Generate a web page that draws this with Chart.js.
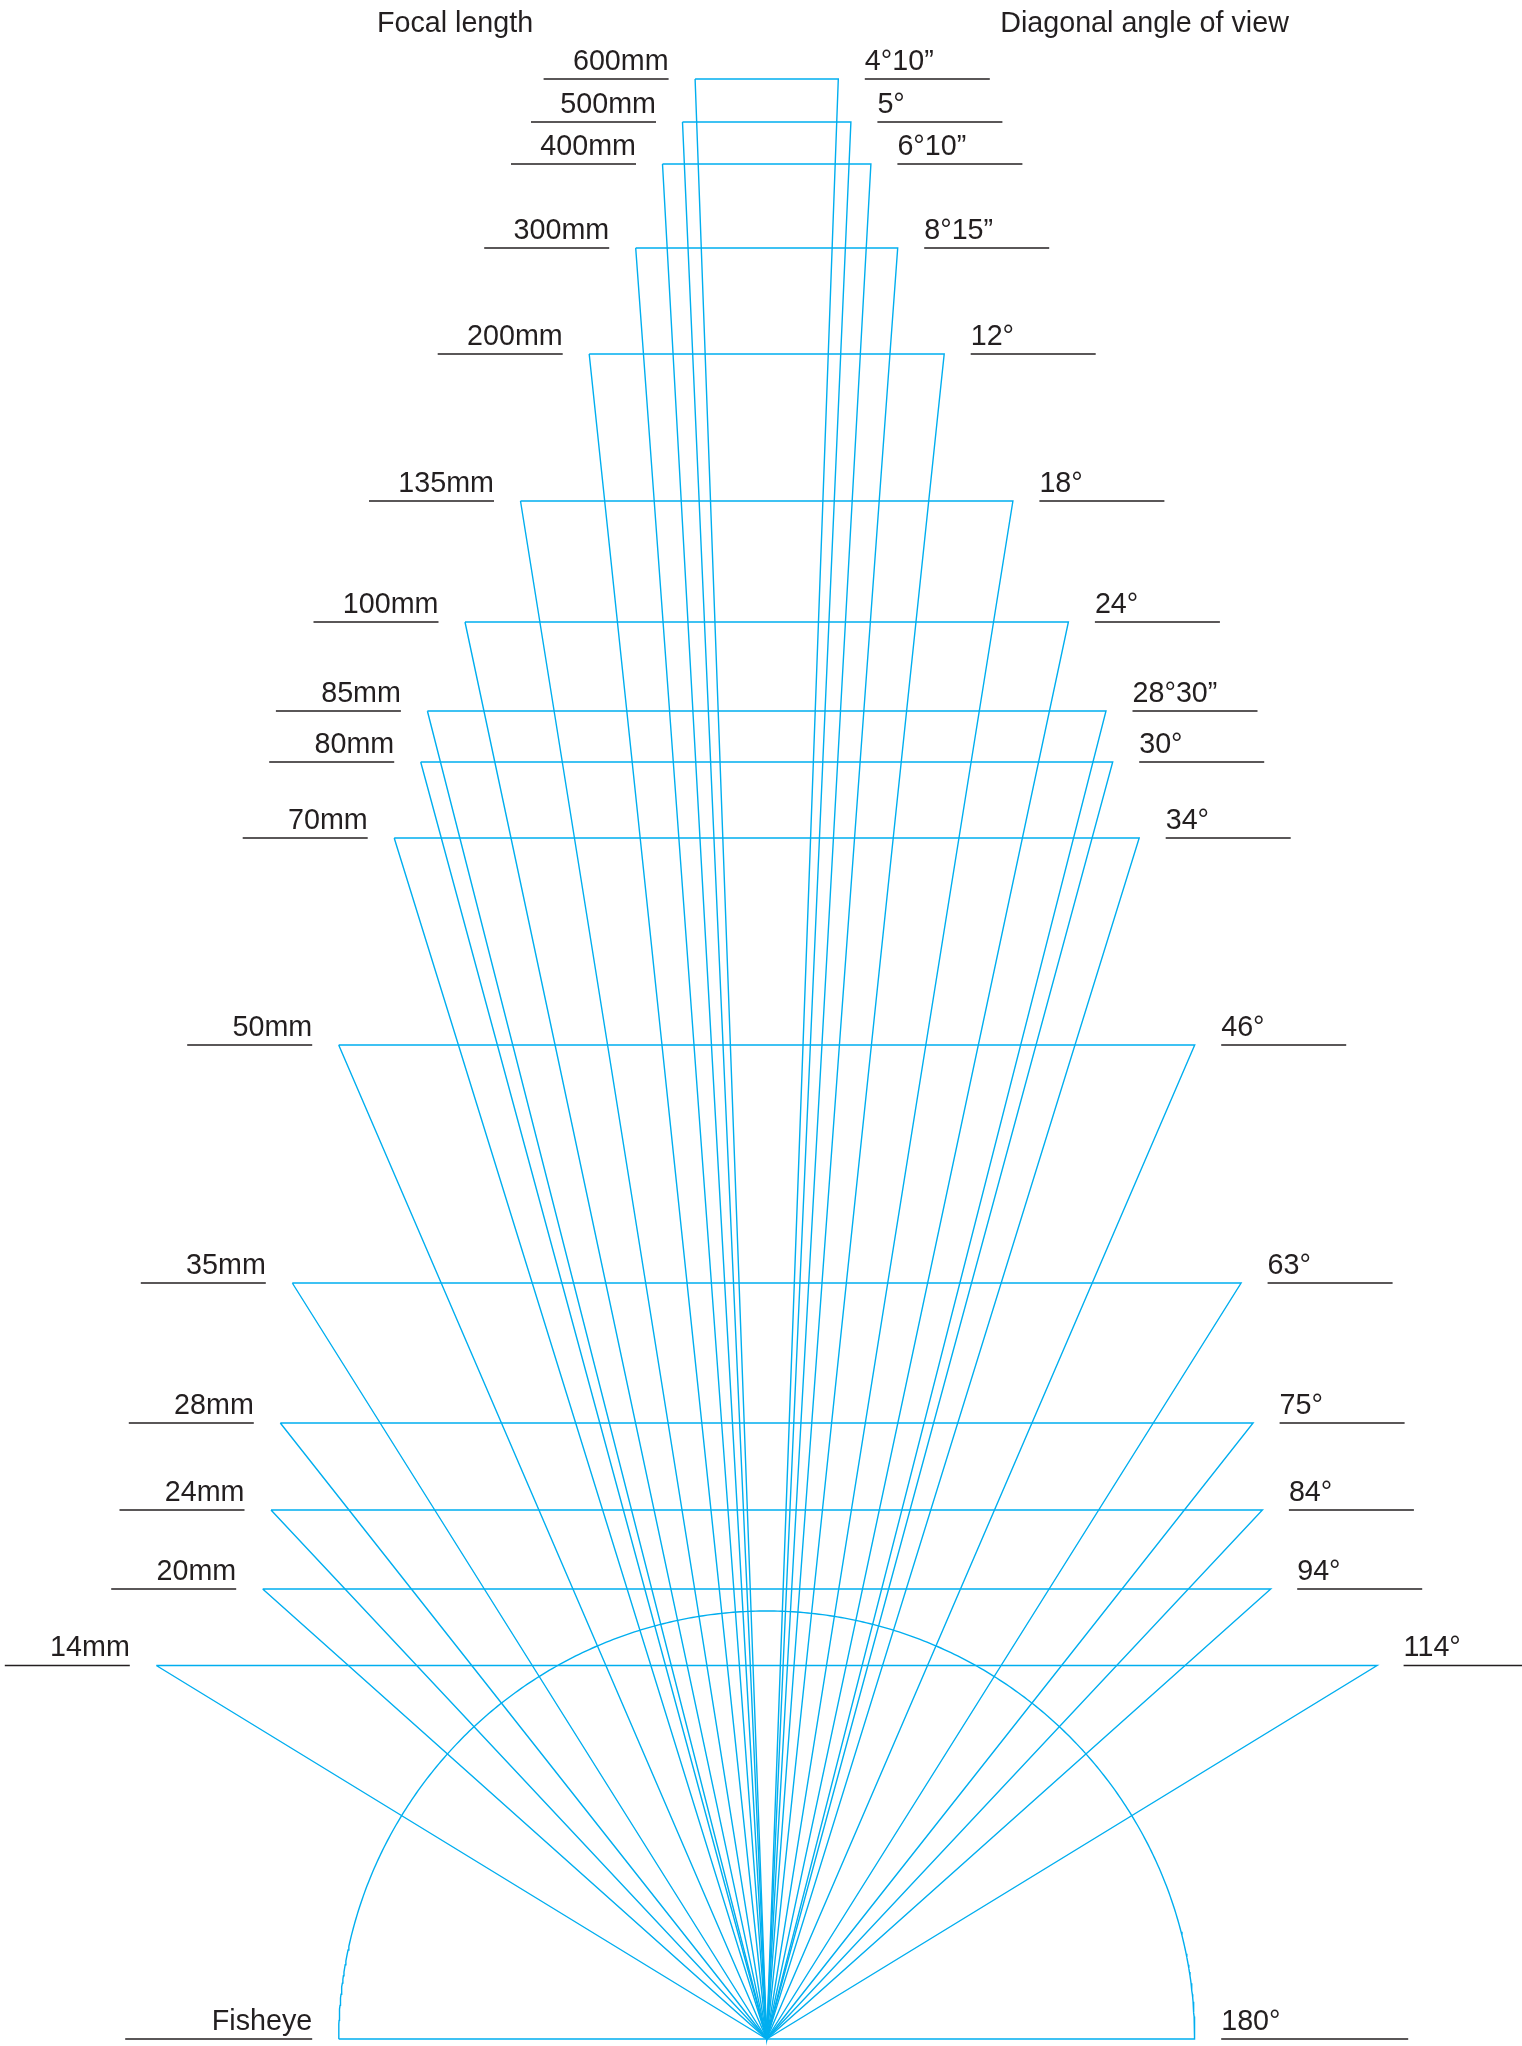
<!DOCTYPE html>
<html>
<head>
<meta charset="utf-8">
<style>
  html, body { margin: 0; padding: 0; background: #ffffff; }
  canvas { display: block; }
</style>
<script src="https://cdn.jsdelivr.net/npm/chart.js@4.4.1/dist/chart.umd.min.js"></script>
</head>
<body>
<canvas id="c" width="1522" height="2046"></canvas>
<script>
// ---- data ----
const focalLengths = ['600mm', '500mm', '400mm', '300mm', '200mm', '135mm', '100mm', '85mm', '80mm', '70mm', '50mm', '35mm', '28mm', '24mm', '20mm', '14mm', 'Fisheye'];
const viewAngles = ['4°10”', '5°', '6°10”', '8°15”', '12°', '18°', '24°', '28°30”', '30°', '34°', '46°', '63°', '75°', '84°', '94°', '114°', '180°'];
// height of each frame line above the common apex (diagram units)
const rowHeights = [1960, 1917, 1875, 1791, 1685, 1538, 1417, 1328, 1277, 1201, 994, 756, 616, 529, 450, 373.5, 0];
// half width of each frame line (diagram units); fisheye = radius of the half circle
const halfWidths = [71.6, 84.2, 104.2, 131, 177.5, 246.2, 301.7, 339.3, 346, 372.5, 428, 474.4, 486.4, 495.7, 504, 610.4, 428];
const headerLabels = ['Focal length', 'Diagonal angle of view'];

// ---- styling ----
const BLUE = '#00aeef';
const INK = '#231f20';
const FONT = '28.7px "Liberation Sans", Arial, Helvetica, sans-serif';
const LABEL_GAP = 26.5;
const LABEL_LEN = 125;
const FISHEYE_LABEL_LEN = 187;
const TEXT_RAISE = 9.5;
const HEADER_OFFSET = 233.5;
const HEADER_LEVEL = 2007.3;

const datasets = [];
focalLengths.forEach((name, i) => {
  const h = rowHeights[i], w = halfWidths[i];
  const isFisheye = name === 'Fisheye';
  const len = isFisheye ? FISHEYE_LABEL_LEN : LABEL_LEN;
  // label underlines
  datasets.push({
    data: [{x: -w - LABEL_GAP - len, y: h}, {x: -w - LABEL_GAP, y: h}],
    borderColor: INK, borderWidth: 1.4, showLine: true, pointRadius: 0, fill: false
  });
  datasets.push({
    data: [{x: w + LABEL_GAP, y: h}, {x: w + LABEL_GAP + len, y: h}],
    borderColor: INK, borderWidth: 1.4, showLine: true, pointRadius: 0, fill: false
  });
  let pts;
  if (isFisheye) {
    pts = [];
    for (let k = 0; k <= 360; k++) {
      const a = Math.PI - k * Math.PI / 360;
      pts.push({x: w * Math.cos(a), y: h + w * Math.sin(a)});
    }
    pts.push({x: -w, y: h});
  } else {
    pts = [{x: -w, y: h}, {x: w, y: h}, {x: 0, y: 0}, {x: -w, y: h}];
  }
  datasets.push({
    data: pts, borderColor: BLUE, borderWidth: 1.4, showLine: true,
    pointRadius: 0, fill: false, tension: 0, borderJoinStyle: 'miter'
  });
});

const labelPlugin = {
  id: 'labels',
  afterDatasetsDraw(chart) {
    const ctx = chart.ctx;
    const xs = chart.scales.x, ys = chart.scales.y;
    ctx.save();
    ctx.font = FONT;
    ctx.fillStyle = INK;
    ctx.textBaseline = 'alphabetic';
    focalLengths.forEach((name, i) => {
      const h = rowHeights[i], w = halfWidths[i];
      const py = ys.getPixelForValue(h) - TEXT_RAISE;
      ctx.textAlign = 'right';
      ctx.fillText(name, xs.getPixelForValue(-w - LABEL_GAP), py);
      ctx.textAlign = 'left';
      ctx.fillText(viewAngles[i], xs.getPixelForValue(w + LABEL_GAP), py);
    });
    const hy = ys.getPixelForValue(HEADER_LEVEL);
    ctx.textAlign = 'right';
    ctx.fillText(headerLabels[0], xs.getPixelForValue(-HEADER_OFFSET), hy);
    ctx.textAlign = 'left';
    ctx.fillText(headerLabels[1], xs.getPixelForValue(HEADER_OFFSET), hy);
    ctx.restore();
  }
};

new Chart(document.getElementById('c'), {
  type: 'scatter',
  data: { datasets },
  options: {
    responsive: false,
    devicePixelRatio: 1,
    animation: false,
    layout: { padding: 0 },
    plugins: { legend: { display: false }, tooltip: { enabled: false }, title: { display: false } },
    elements: { point: { radius: 0, hoverRadius: 0 }, line: { tension: 0 } },
    scales: {
      x: { type: 'linear', display: false, min: -766.7, max: 755.3 },
      y: { type: 'linear', display: false, min: -7, max: 2039 }
    }
  },
  plugins: [labelPlugin]
});
</script>
</body>
</html>
